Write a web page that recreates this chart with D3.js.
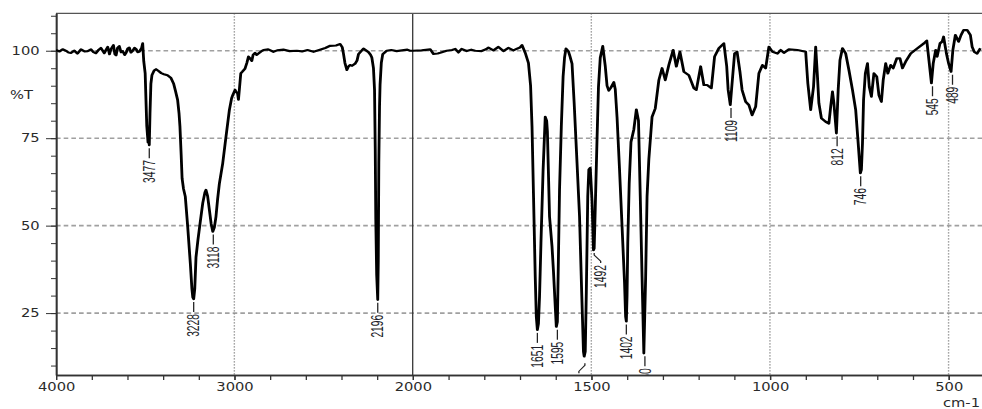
<!DOCTYPE html>
<html>
<head>
<meta charset="utf-8">
<script src="https://cdn.jsdelivr.net/npm/d3@7"></script>
<style>
  body { margin: 0; background: #fff; }
  svg { display: block; }
</style>
</head>
<body>
<svg id="chart" width="982" height="409"></svg>
<script>
// spectrum: [wavenumber cm-1, %T]
const highRegion = [
  [4000,100.2],[3980,99.8],[3963,100.4],[3945,100.0],[3930,99.5],[3916,99.4],[3897,100.0],[3880,99.2],
  [3860,100.4],[3840,99.8],[3822,99.9],[3804,100.4],[3790,99.6],[3776,99.3],[3760,100.3],[3748,100.8],
  [3729,99.3],[3720,100.2],[3710,101.1],[3700,99.0],[3692,100.4],[3678,101.6],[3670,99.0],[3663,98.7],
  [3655,100.8],[3645,101.3],[3635,99.6],[3626,99.9],[3615,98.8],[3607,99.4],[3598,100.6],[3589,100.9],
  [3580,99.5],[3570,100.0],[3560,100.8],[3551,100.5],[3542,99.6],[3533,99.7],[3520,100.8],[3514,102.1],
  [3508,97],[3500,93.5],[3495,85],[3491,78.5],[3484,73.8],[3480,75.5],[3477,73],[3473,82],[3468,90.5],
  [3462,93],[3450,94.3],[3439,94.7],[3425,94.2],[3410,93.6],[3395,93.3],[3375,93.0],[3355,92.2],
  [3340,90.5],[3330,88.5],[3318,85.9],[3310,82],[3305,78.3],[3298,70],[3293,63.5],[3285,60.5],
  [3275,58.3],[3262,50],[3247,39.3],[3238,32],[3233,29.5],[3228,29],[3222,32],[3215,41],[3204,46],
  [3192,50.7],[3177,56.5],[3165,59.5],[3159,60.2],[3150,58.5],[3140,54.5],[3130,50.5],[3121,48.3],
  [3112,49.5],[3103,52.6],[3094,57.5],[3084,62],[3065,67.9],[3047,75.4],[3028,83],[3015,86.5],
  [3009,87.3],[2996,88.8],[2990,88.2],[2982,87.8],[2977,86],[2970,90],[2964,93.5],[2955,94],
  [2940,94.9],[2930,96.5],[2921,98.3],[2912,97.8],[2902,97.1],[2895,98.8],[2884,99.4],[2875,98.8],
  [2865,99.2],[2850,99.8],[2837,100.2],[2810,100.4],[2781,99.7],[2760,100.1],[2725,100.3],[2690,99.9],
  [2650,100],[2620,99.8],[2590,100.2],[2556,99.7],[2520,100.3],[2490,100.8],[2463,101.4],[2430,101.5],
  [2407,101.9],[2395,101.0],[2388,99.1],[2380,96.5],[2369,94.5],[2360,95.5],[2351,95.9],[2340,95.7],
  [2323,96.3],[2312,97.2],[2304,99],[2290,99.8],[2276,100.6],[2262,100.1],[2248,99.6],[2236,98.8],
  [2229,98],[2220,95],[2214,88.8],[2210,72],[2207,52],[2202,36],[2196,28.8],[2193,40],[2190,67.9],
  [2186,84],[2183,90.3],[2176,96.5],[2168,99],[2146,100],[2120,100.2],[2090,99.9],[2060,100.1],
  [2030,100.3],[2015,100]
];
const lowRegion = [
  [2000,100],[1975,100.1],[1951,100.4],[1942,99.1],[1930,99.2],[1923,99.4],[1905,100],[1890,100.2],
  [1881,100.5],[1872,99.5],[1863,100.5],[1849,99.9],[1836,100.3],[1825,100],[1807,99.9],[1795,100.4],
  [1788,100.9],[1774,100.1],[1760,101.1],[1746,99.9],[1732,100.8],[1718,100.1],[1708,100.6],[1700,100.9],
  [1694,101.6],[1685,99.4],[1676,96.5],[1670,90],[1666,78.3],[1662,59.3],[1657,35.4],[1654,24],
  [1651,20.2],[1648,22],[1645,29.7],[1641,45],[1635,65.9],[1629,81.1],[1625,80],[1623,77],[1617,52.6],
  [1610,44],[1606,37],[1600,25],[1598,21.1],[1595,22.5],[1589,60.2],[1584,78.3],[1579,92.6],[1575,98],
  [1571,100.6],[1564,99.8],[1560,98.5],[1554,96.3],[1548,85],[1540,67.9],[1533,52.6],[1527,31],
  [1522,14],[1520,12.6],[1517,14],[1514,31],[1510,58.3],[1507,66],[1503,66.5],[1498,57],[1494,43],
  [1492,43.5],[1489,55],[1484,74.8],[1480,89.6],[1475,98],[1468,101.3],[1461,95.6],[1456,90],
  [1451,88.6],[1445,89.5],[1437,91],[1433,89],[1428,81],[1421,65.9],[1414,49.8],[1407,33.6],[1404,24],
  [1402,22.6],[1400,30],[1398,45],[1394,62],[1389,73.9],[1381,77.5],[1374,83.2],[1368,80],[1363,58.3],
  [1358,35.4],[1353,13.5],[1348,35],[1344,58.3],[1339,69],[1330,81.1],[1321,83.5],[1311,91.6],
  [1302,95],[1293,91.6],[1283,95.9],[1271,100.2],[1262,95.5],[1252,99.7],[1241,94],[1227,93],
  [1213,89.3],[1206,88.8],[1194,95.5],[1185,90.2],[1176,90.2],[1164,89.3],[1155,98.3],[1143,100.7],
  [1129,102.1],[1121,95.5],[1117,88.8],[1111,84.5],[1106,90.7],[1099,99.2],[1092,99.7],[1084,94],
  [1078,88.8],[1068,85.4],[1059,84.5],[1050,81.6],[1040,84],[1031,93.5],[1021,95.9],[1012,95],
  [1003,101.1],[993,99.7],[979,99.2],[970,100.2],[961,99.4],[947,100.4],[923,100.2],[900,99.7],
  [894,90.7],[886,83.1],[878,89.7],[872,101.1],[867,92.6],[863,85],[856,80.7],[844,79.7],[835,79.2],
  [830,84],[825,88.3],[821,85],[814,76.4],[809,88.8],[804,97.3],[797,100.7],[788,99.2],[779,94.5],
  [769,88.8],[760,83.1],[753,73.5],[747,65],[744,66],[741,73.5],[738,85.9],[733,93.5],[727,96.4],
  [722,89.7],[716,86.9],[709,93.5],[701,92.6],[695,87.3],[688,85.4],[683,91.6],[676,96.4],[670,93.5],
  [662,95.9],[655,95],[645,97.8],[636,97.8],[629,95],[620,96.9],[606,99.2],[587,100.7],[569,102.1],
  [561,102.9],[555,97.3],[548,90.7],[543,96.4],[536,100.2],[532,98.3],[524,102.1],[518,102.6],
  [514,104],[506,99.2],[500,96.4],[493,94],[488,100.2],[481,104.5],[472,102.6],[465,104.5],
  [458,105.9],[448,105.9],[439,104.5],[434,101.1],[428,99.7],[420,99.2],[411,100.7]
];

// peak picks
const peakWn = [3477, 3228, 3118, 2196, 1651, 1595, 1518, 1492, 1402, 1350, 1109, 812, 746, 545, 489];
const peakT = [73, 29, 48.3, 28.8, 20.2, 21.1, 11.5, 43, 22.6, 13.5, 84.5, 76.4, 65, 90.7, 94];
const peakText = ["3477", "3228", "3118", "2196", "1651", "1595", "1518", "1492", "1402", "1350", "1109", "812", "746", "545", "489"];

const yMajor = [25, 50, 75, 100];
const yMinor = d3.range(10, 111, 5);
const xMajor = [4000, 3000, 2000, 1500, 1000, 500];
const xMinor = d3.range(4000, 2000, -200).concat(d3.range(2000, 399, -100));
const xGrid = [3000, 1500, 1000, 500];

// the picture is stretched sideways, so everything is drawn in a squeezed frame
const SX = 1.28;
const labelShift = {1518: -6, 1492: 6.5};

const svg = d3.select("#chart");
const g = svg.append("g").attr("transform", `scale(${SX},1)`);

const x = d3.scaleLinear().domain([4000, 2000, 400]).range([56, 412.7, 984.3].map(v => v / SX));
const y = d3.scaleLinear().domain([7.3, 110.7]).range([375, 13.3]);

const plotLeft = x(4000), plotRight = x(400), plotTop = y(110.7), plotBottom = y(7.3);

svg.append("defs").append("clipPath").attr("id", "plotclip")
  .append("rect")
  .attr("x", plotLeft).attr("y", plotTop)
  .attr("width", plotRight - plotLeft).attr("height", plotBottom - plotTop);

// grid
const grid = g.append("g");
grid.selectAll(".hgrid").data(yMajor).enter().append("line")
  .attr("class", "hgrid")
  .attr("x1", plotLeft).attr("x2", plotRight)
  .attr("y1", d => y(d)).attr("y2", d => y(d))
  .attr("stroke", "#a0a0a0").attr("stroke-width", 1.6)
  .attr("stroke-dasharray", "3.6,2.4");

grid.selectAll(".vgrid").data(xGrid).enter().append("line")
  .attr("class", "vgrid")
  .attr("x1", d => x(d)).attr("x2", d => x(d))
  .attr("y1", plotTop).attr("y2", plotBottom)
  .attr("stroke", "#888").attr("stroke-width", 1.1)
  .attr("stroke-dasharray", "1.2,1.8");

g.append("line")
  .attr("x1", x(2000)).attr("x2", x(2000))
  .attr("y1", plotTop).attr("y2", plotBottom)
  .attr("stroke", "#333").attr("stroke-width", 1);

g.append("line")
  .attr("x1", plotLeft).attr("x2", 982 / SX)
  .attr("y1", plotTop).attr("y2", plotTop)
  .attr("stroke", "#555").attr("stroke-width", 1.3);

// axes
const tickFont = "'DejaVu Sans', Verdana, sans-serif";

const yMinorAxis = g.append("g").attr("transform", `translate(${plotLeft},0)`)
  .call(d3.axisLeft(y).tickValues(yMinor).tickSize(5 / SX).tickSizeOuter(0).tickFormat(""));
const yMajorAxis = g.append("g").attr("transform", `translate(${plotLeft},0)`)
  .call(d3.axisLeft(y).tickValues(yMajor).tickSize(10 / SX).tickSizeOuter(0).tickPadding(5));

const xMinorAxis = g.append("g").attr("transform", `translate(0,${plotBottom})`)
  .call(d3.axisBottom(x).tickValues(xMinor).tickSize(5).tickSizeOuter(0).tickFormat(""));
const xMajorAxis = g.append("g").attr("transform", `translate(0,${plotBottom})`)
  .call(d3.axisBottom(x).tickValues(xMajor).tickSize(5).tickSizeOuter(0).tickPadding(3).tickFormat(d3.format("d")));

[yMinorAxis, yMajorAxis, xMinorAxis, xMajorAxis].forEach(a => {
  a.selectAll("path").attr("stroke", "#333").attr("stroke-width", 1.3);
  a.selectAll("line").attr("stroke", "#333").attr("stroke-width", 1);
  a.selectAll("text")
    .style("font-family", tickFont)
    .style("font-size", "11.5px")
    .attr("fill", "#2a2a2a");
});

g.append("text")
  .attr("x", 10 / SX).attr("y", 99)
  .style("font-family", tickFont).style("font-size", "11.5px")
  .attr("fill", "#2a2a2a")
  .text("%T");

g.append("text")
  .attr("x", 980 / SX).attr("y", 407)
  .attr("text-anchor", "end")
  .style("font-family", tickFont).style("font-size", "11.5px")
  .attr("fill", "#2a2a2a")
  .text("cm-1");

// spectrum
const line = d3.line().x(d => x(d[0])).y(d => y(d[1]));
const plot = g.append("g").attr("clip-path", "url(#plotclip)");

plot.append("path")
  .datum(highRegion.concat(lowRegion))
  .attr("d", line)
  .attr("fill", "none")
  .attr("stroke", "#000")
  .attr("stroke-width", 2.2)
  .attr("stroke-linejoin", "round");

// peak labels
const labels = plot.selectAll(".peak").data(peakWn).enter().append("g").attr("class", "peak");

labels.append("path")
  .attr("d", (d, i) => {
    const px = x(d), py = y(peakT[i]);
    const dx = (labelShift[d] || 0) / SX;
    if (dx) return `M${px},${py + 3}L${px},${py + 5}L${px + dx},${py + 11}L${px + dx},${py + 13}`;
    return `M${px},${py + 3}L${px},${py + 13}`;
  })
  .attr("fill", "none")
  .attr("stroke", "#222")
  .attr("stroke-width", 1);

labels.append("text")
  .attr("transform", (d, i) => {
    const px = x(d) + (labelShift[d] || 0) / SX;
    return `translate(${px},${y(peakT[i]) + 15}) rotate(-90) scale(0.82,1)`;
  })
  .attr("text-anchor", "end")
  .attr("dy", "0.35em")
  .style("font-family", "'Liberation Sans', Arial, sans-serif")
  .style("font-size", "12.5px")
  .attr("fill", "#1e1e2a")
  .text((d, i) => peakText[i]);
</script>
</body>
</html>
